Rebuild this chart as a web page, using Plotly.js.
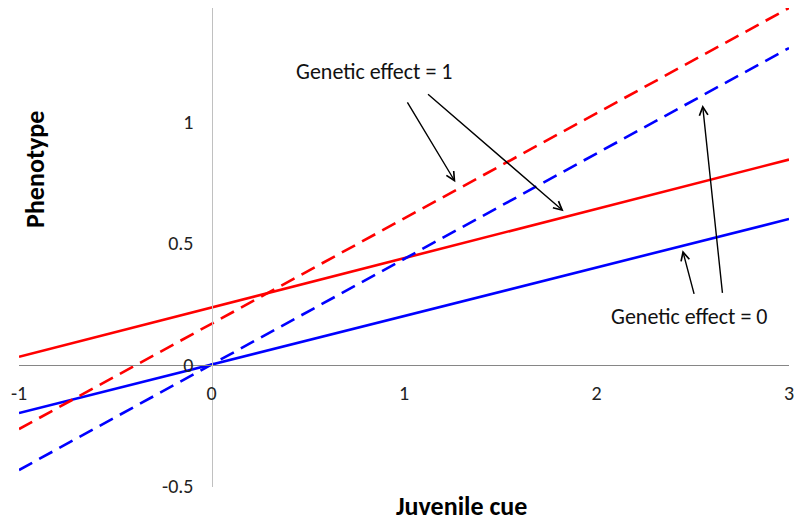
<!DOCTYPE html>
<html>
<head>
<meta charset="utf-8">
<script src="https://cdn.plot.ly/plotly-3.0.1.min.js"></script>
<style>html,body{margin:0;padding:0;background:#fff;}#chart{width:797px;height:526px;}</style>
</head>
<body>
<div id="chart"></div>
<script>
// Data
const xCue = [-1, 3];
const blueSolid = [-0.2, 0.6];
const blueDashed = [-0.435, 1.305];
const redSolid = [0.032, 0.845];
const redDashed = [-0.266, 1.47];

const xTicks = [-1, 0, 1, 2, 3];
const xTickText = ['-1', '0', '1', '2', '3'];
const yTicks = [-0.5, 0, 0.5, 1];
const yTickText = ['-0.5', '0', '0.5', '1'];

const xRange = [-1, 3];
const yRange = [-0.505, 1.47];

const FONT = 'Carlito, Lato, "Open Sans", sans-serif';

const traces = [
  {x: xCue, y: redSolid, mode: 'lines', line: {color: '#ff0000', width: 2.6}},
  {x: xCue, y: blueSolid, mode: 'lines', line: {color: '#0000ff', width: 2.6}},
  {x: xCue, y: redDashed, mode: 'lines', line: {color: '#ff0000', width: 2.6, dash: '15px,8px'}},
  {x: xCue, y: blueDashed, mode: 'lines', line: {color: '#0000ff', width: 2.6, dash: '15px,8px'}}
];

function arrow(hx, hy, tx, ty) {
  return {x: hx, y: hy, ax: tx, ay: ty, xref: 'x', yref: 'y', axref: 'x', ayref: 'y',
    text: '', showarrow: true, arrowhead: 5, arrowsize: 1.2, arrowwidth: 1.4, arrowcolor: '#000'};
}

const layout = {
  width: 797, height: 526,
  margin: {l: 19, r: 8, t: 8, b: 39},
  paper_bgcolor: '#fff', plot_bgcolor: '#fff',
  showlegend: false,
  font: {family: FONT, size: 20, color: '#222'},
  xaxis: {
    range: xRange, anchor: 'free', position: (0 - yRange[0]) / (yRange[1] - yRange[0]),
    showline: true, linecolor: '#868686', linewidth: 1.3,
    showgrid: false, zeroline: false,
    tickmode: 'array', tickvals: xTicks, ticktext: xTickText,
    ticks: '', ticklabelstandoff: 10,
    tickfont: {family: FONT, size: 20, color: '#222'}
  },
  yaxis: {
    range: yRange, anchor: 'free', position: (0 - xRange[0]) / (xRange[1] - xRange[0]),
    showline: true, linecolor: '#c0c0c0', linewidth: 1.3,
    showgrid: false, zeroline: false,
    tickmode: 'array', tickvals: yTicks, ticktext: yTickText,
    ticks: '', ticklabelstandoff: 14,
    tickfont: {family: FONT, size: 20, color: '#222'}
  },
  annotations: [
    {text: 'Genetic effect = 1', x: 0.842, y: 1.207, xref: 'x', yref: 'y', showarrow: false,
     xanchor: 'center', yanchor: 'middle', font: {family: FONT, size: 22, color: '#111'}},
    {text: 'Genetic effect = 0', x: 2.483, y: 0.198, xref: 'x', yref: 'y', showarrow: false,
     xanchor: 'center', yanchor: 'middle', font: {family: FONT, size: 22, color: '#111'}},
    arrow(1.267, 0.752, 1.013, 1.087),
    arrow(1.829, 0.632, 1.117, 1.12),
    arrow(2.447, 0.471, 2.509, 0.285),
    arrow(2.551, 1.07, 2.655, 0.289),
    {text: '<b>Juvenile cue</b>', x: 0.575, y: -0.04, xref: 'paper', yref: 'paper', showarrow: false,
     xanchor: 'center', yanchor: 'middle', font: {family: FONT, size: 26, color: '#000'}},
    {text: '<b>Phenotype</b>', x: 0.0208, y: 0.662, xref: 'paper', yref: 'paper', showarrow: false,
     textangle: -90, xanchor: 'center', yanchor: 'middle', font: {family: FONT, size: 26, color: '#000'}}
  ]
};

Plotly.newPlot('chart', traces, layout, {displayModeBar: false, staticPlot: true});
</script>
</body>
</html>
